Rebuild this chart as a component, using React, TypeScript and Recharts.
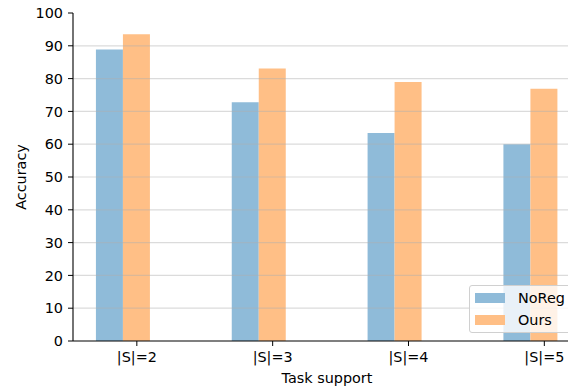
import React from "react";
import {
  BarChart,
  Bar,
  XAxis,
  YAxis,
  ReferenceLine,
  Legend,
  Label,
} from "recharts";

// Task-support settings shown on the x axis
const categories = ["|S|=2", "|S|=3", "|S|=4", "|S|=5"];
// Accuracy per setting
const noRegValues = [88.9, 72.8, 63.4, 60.0];
const oursValues = [93.5, 83.1, 79.0, 76.9];
const yTicks = [0, 10, 20, 30, 40, 50, 60, 70, 80, 90, 100];

const seriesNames = ["NoReg", "Ours"];
const seriesColors = ["#8fbbd9", "#ffbf86"];

const FONT = "'DejaVu Sans', sans-serif";
const FS = 14.4;
const TEXT = "#000";

// Numeric x position per category; an empty third slot keeps the second bar centred on its tick
const data = categories.map((c, i) => ({
  pos: i,
  label: c,
  noreg: noRegValues[i],
  ours: oursValues[i],
  slot: null as number | null,
}));

const LegendBox = () => (
  <div
    style={{
      width: 104,
      height: 48,
      boxSizing: "border-box",
      border: "1px solid #d0d0d0",
      borderRadius: 3,
      background: "rgba(255,255,255,0.8)",
      fontFamily: FONT,
      fontSize: FS,
      color: TEXT,
      position: "relative",
    }}
  >
    {seriesNames.map((n, i) => (
      <div
        key={n}
        style={{
          position: "absolute",
          left: 5,
          top: 6 + i * 22,
          display: "flex",
          alignItems: "center",
          height: 12,
        }}
      >
        <div
          style={{
            width: 30,
            height: 10,
            background: seriesColors[i],
            marginRight: 13,
          }}
        />
        <span style={{ lineHeight: "12px" }}>{n}</span>
      </div>
    ))}
  </div>
);

const YLabel = (props: any) => {
  const vb = props.viewBox || {};
  const cy = vb.y + vb.height / 2;
  return (
    <text
      x={26}
      y={cy}
      transform={`rotate(-90, 26, ${cy})`}
      textAnchor="middle"
      fontFamily={FONT}
      fontSize={FS}
      fill={TEXT}
    >
      Accuracy
    </text>
  );
};

export default function App() {
  return (
    <div
      style={{
        position: "absolute",
        left: 0,
        top: 0,
        width: 568,
        height: 387,
        overflow: "hidden",
        background: "#fff",
      }}
    >
      <BarChart
        width={582}
        height={387}
        data={data}
        margin={{ top: 13, right: 1, bottom: 0, left: 0 }}
        barSize={27}
        barGap={0}
      >
        <XAxis
          dataKey="pos"
          type="number"
          domain={[-0.47, 3.27]}
          allowDataOverflow
          ticks={[0, 1, 2, 3]}
          tickFormatter={(v: number) => categories[v] ?? ""}
          interval={0}
          height={46}
          axisLine={{ stroke: "#000", strokeWidth: 1.1 }}
          tickLine={{ stroke: "#000" }}
          tickSize={5}
          tickMargin={6}
          tick={{ fontFamily: FONT, fontSize: FS, fill: TEXT }}
        >
          <Label
            value="Task support"
            position="insideBottom"
            offset={4}
            style={{ fontFamily: FONT, fontSize: FS, fill: TEXT }}
          />
        </XAxis>
        <YAxis
          type="number"
          domain={[0, 100]}
          ticks={yTicks}
          interval={0}
          width={73}
          axisLine={{ stroke: "#000", strokeWidth: 1.1 }}
          tickLine={{ stroke: "#000" }}
          tickSize={5}
          tickMargin={5}
          tick={{ fontFamily: FONT, fontSize: FS, fill: TEXT }}
        >
          <Label content={<YLabel />} />
        </YAxis>
        <Bar
          dataKey="noreg"
          name={seriesNames[0]}
          fill={seriesColors[0]}
          isAnimationActive={false}
        />
        <Bar
          dataKey="ours"
          name={seriesNames[1]}
          fill={seriesColors[1]}
          isAnimationActive={false}
        />
        <Bar dataKey="slot" fill="none" legendType="none" isAnimationActive={false} />
        {/* horizontal grid, drawn over the bars */}
        {yTicks.slice(1, -1).map((t) => (
          <ReferenceLine
            key={t}
            y={t}
            stroke="#b0b0b0"
            strokeOpacity={0.45}
            strokeWidth={1.2}
          />
        ))}
        <Legend
          layout="horizontal"
          verticalAlign="middle"
          align="center"
          content={<LegendBox />}
          wrapperStyle={{ position: "absolute", left: 469, top: 285, width: 104, height: 48 }}
        />
        {/* top spine */}
        <XAxis
          xAxisId="top"
          orientation="top"
          type="number"
          domain={[-0.47, 3.27]}
          allowDataOverflow
          ticks={[]}
          tick={false}
          tickLine={false}
          height={0}
          axisLine={{ stroke: "#000", strokeWidth: 1.1 }}
        />
      </BarChart>
    </div>
  );
}
